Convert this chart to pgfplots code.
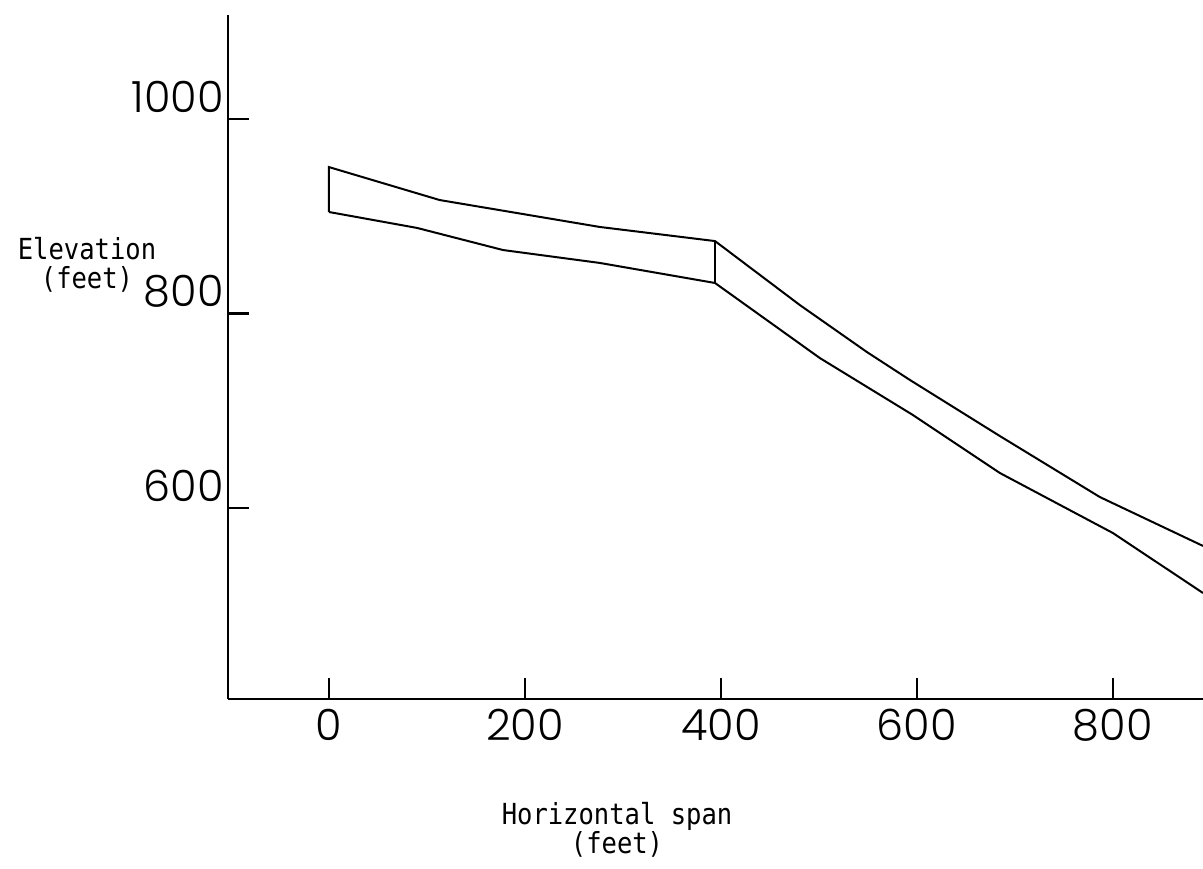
\documentclass[border=0pt]{standalone}
\usepackage{pgfplots}
\pgfplotsset{compat=1.18}
\usepackage{fontspec}
\newfontfamily\tickfont{Poppins Light}
\newfontfamily\labfont{DejaVu Sans Mono}[FakeStretch=0.88]
\begin{document}
\begin{tikzpicture}
\begin{axis}[
  scale only axis, width=487.5pt, height=342pt,
  xmin=-103, xmax=892, ymin=403.6, ymax=1107,
  axis lines=left, axis line style={-, line width=1.3pt},
  xtick={0,200,400,600,800}, ytick={600,800,1000},
  tick align=inside, major tick length=10.5pt,
  tick style={line width=1.3pt, black},
  /pgf/number format/assume math mode=true,
  /pgf/number format/1000 sep={},
  ticklabel style={font=\fontsize{21.5}{21.5}\selectfont\tickfont},
  xticklabel style={anchor=center, yshift=-13pt},
  yticklabel style={anchor=east, yshift=11pt, inner sep=2pt},
  clip=false,
  xlabel={Horizontal span\\(feet)},
  ylabel={Elevation\\(feet)},
  every axis x label/.style={at={(axis description cs:0.399,-0.1915)}, anchor=center, align=center, font=\fontsize{14.5}{14.5}\selectfont\labfont},
  every axis y label/.style={at={(axis description cs:-0.1446,0.6345)}, anchor=center, align=center, font=\fontsize{14.5}{14.5}\selectfont\labfont},
]
\addplot[black, line width=1pt, mark=none] coordinates {
 (0,904.4) (0,950.6) (113,916.7) (276.5,889) (394,874.5) (480.6,808.7)
 (549,760.4) (593,731.6) (684.7,674) (786.7,611.3) (892,561)};
\addplot[black, line width=1pt, mark=none] coordinates {
 (0,904.4) (90,888) (177.6,865.3) (276.5,852) (394,831.4) (501,754.2)
 (596,695.6) (684.7,636) (800,574.3) (892,512.6)};
\addplot[black, line width=0.9pt, mark=none] coordinates {(394,874.5) (394,831.4)};
\coordinate (BL) at (rel axis cs:0,0);
\coordinate (TR) at (rel axis cs:1,1);
\end{axis}
\pgfresetboundingbox
\path[use as bounding box] ([xshift=-114pt,yshift=-85pt]BL) rectangle ([yshift=7.5pt]TR);
\end{tikzpicture}
\end{document}
